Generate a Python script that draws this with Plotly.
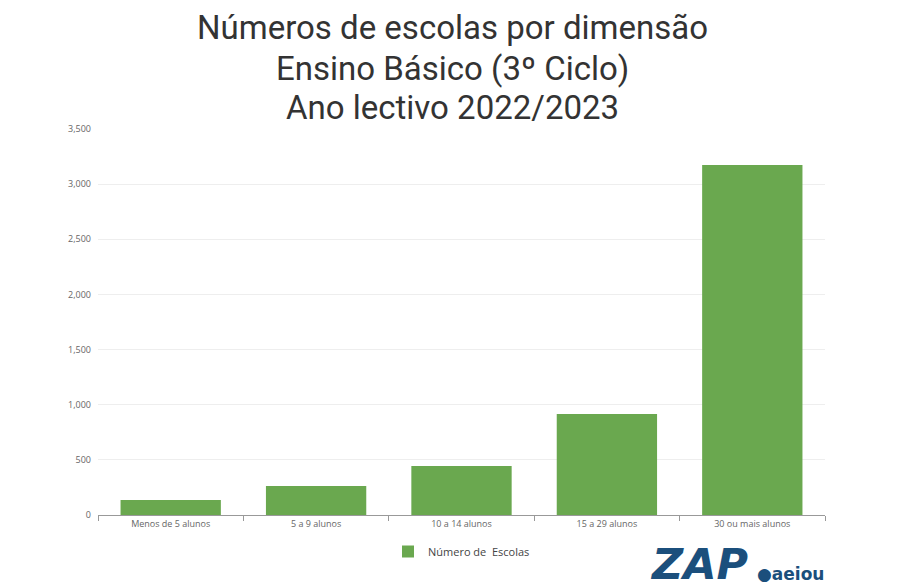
import plotly.graph_objects as go

categories = ["Menos de 5 alunos", "5 a 9 alunos", "10 a 14 alunos", "15 a 29 alunos", "30 ou mais alunos"]
values = [136, 263, 444, 916, 3173]
series_name = "Número de  Escolas"
title_lines = ["Números de escolas por dimensão", "Ensino Básico (3º Ciclo)", "Ano lectivo 2022/2023"]
y_ticks = [0, 500, 1000, 1500, 2000, 2500, 3000, 3500]

L, R, T, B = 98, 825, 129, 515
def px(x):
    return (x - L) / (R - L)
def py(y):
    return (B - y) / (B - T)

fig = go.Figure()
fig.add_trace(go.Bar(x=categories, y=values, name=series_name,
                     marker=dict(color="#6aa84f", line=dict(width=0))))

fig.update_layout(
    width=900, height=588,
    paper_bgcolor="white", plot_bgcolor="white",
    margin=dict(l=L, r=900 - R, t=T, b=588 - B),
    bargap=0.31,
    font=dict(family="Open Sans", color="#666"),
    showlegend=True,
    legend=dict(orientation="h", x=0.5, xanchor="center", y=py(537), yanchor="top",
                font=dict(size=11, color="#444"), itemwidth=30),
)
fig.update_xaxes(showline=True, linecolor="#999", linewidth=1, ticks="outside", tickson="boundaries",
                 ticklen=5, tickcolor="#999", tickfont=dict(size=9, color="#666"), showgrid=False)
fig.update_yaxes(range=[0, 3500], tickvals=y_ticks, tickformat=",", showgrid=True, gridcolor="#eeeeee",
                 zeroline=False, tickfont=dict(size=9, color="#666"), ticks="", ticklabelstandoff=6)

for line, yc in zip(title_lines, [28, 69, 107]):
    fig.add_annotation(text=line, x=(452 - L) / (R - L), y=py(yc), xref="paper", yref="paper",
                       xanchor="center", yanchor="middle", showarrow=False,
                       font=dict(family="Roboto", size=33, color="#333"))

fig.add_annotation(text="<b><i>ZAP</i></b>", x=px(648), y=py(564), xref="paper", yref="paper",
                   xanchor="left", yanchor="middle", showarrow=False,
                   font=dict(family="DejaVu Sans", size=43, color="#1b4f7c"))
fig.add_annotation(text="<b>●aeiou</b>", x=px(755), y=py(574), xref="paper", yref="paper",
                   xanchor="left", yanchor="middle", showarrow=False,
                   font=dict(family="DejaVu Sans", size=17, color="#1b4f7c"))

fig.write_html("out.html")
